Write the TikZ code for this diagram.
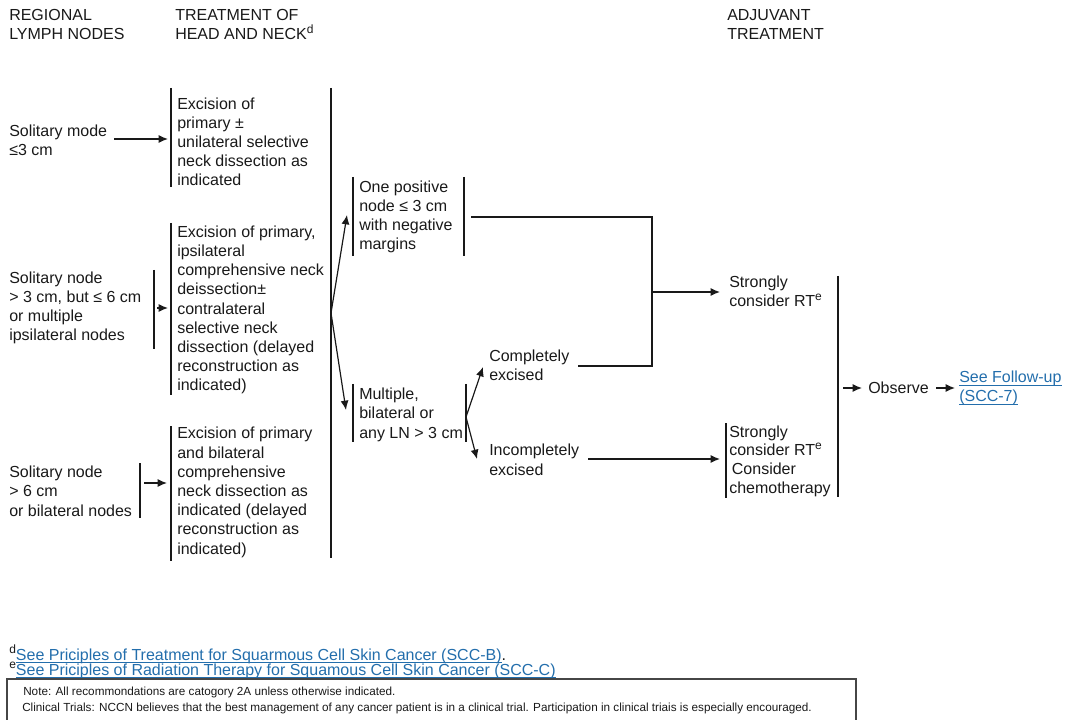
\documentclass[tikz,border=0pt]{standalone}
\usepackage{fontspec}
\setmainfont{Liberation Sans}
\usetikzlibrary{arrows.meta}
\definecolor{ink}{RGB}{25,25,25}
\definecolor{link}{RGB}{35,110,172}
\definecolor{frame}{RGB}{70,70,70}
% underlined link text
\newcommand\lnk[1]{{\color{link}\setbox0\hbox{#1}\rlap{\rule[-2pt]{\wd0}{0.7pt}}\box0}}
% raised footnote mark
\newcommand\fmark[1]{\raisebox{0.42em}{\fontsize{9}{9}\selectfont #1}}
\begin{document}
% multi-line nodes are anchored at the baseline of their last line
\begin{tikzpicture}[x=0.75pt,y=-0.75pt,
  txt/.style={anchor=base west, inner sep=0pt, align=left,
    font=\fontsize{12}{14.4}\selectfont, text=ink},
  small/.style={anchor=base west, inner sep=0pt, align=left,
    font=\fontsize{8.8}{10}\selectfont, text=ink},
  foot/.style={anchor=base west, inner sep=0pt, align=left,
    font=\fontsize{12}{12.8}\selectfont, text=ink},
  bar/.style={line width=0.9pt, draw=ink},
  wire/.style={line width=0.9pt, draw=ink},
  arr/.style={line width=0.9pt, draw=ink, -{Latex[length=7pt,width=6pt]}}]
\useasboundingbox (0,0) rectangle (1068,720);

% column headings
\node[txt] (h1) at (9,40) {REGIONAL\\LYMPH NODES};
\node[txt] (h2) at (175,40) {TREATMENT OF\\HEAD AND NECK\fmark{d}};
\node[txt] (h3) at (727,40) {ADJUVANT\\TREATMENT};

% regional lymph nodes
\node[txt] (l1) at (9,156) {Solitary mode\\≤3 cm};
\node[txt] (l2) at (9,341) {Solitary node\\> 3 cm, but ≤ 6 cm\\or multiple\\ipsilateral nodes};
\node[txt] (l3) at (9,516) {Solitary node\\> 6 cm\\or bilateral nodes};

% treatment of head and neck
\node[txt] (t1) at (177,186) {Excision of\\primary ±\\unilateral selective\\neck dissection as\\indicated};
\node[txt] (t2) at (177,391) {Excision of primary,\\ipsilateral\\comprehensive neck\\deissection±\\contralateral\\selective neck\\dissection (delayed\\reconstruction as\\indicated)};
\node[txt] (t3) at (177,554) {Excision of primary\\and bilateral\\comprehensive\\neck dissection as\\indicated (delayed\\reconstruction as\\indicated)};

% pathology outcomes
\node[txt] (p1) at (359,250) {One positive\\node ≤ 3 cm\\with negative\\margins};
\node[txt] (p2) at (359,438) {Multiple,\\bilateral or\\any LN > 3 cm};
\node[txt] (c1) at (489,381) {Completely\\excised};
\node[txt] (c2) at (489,475) {Incompletely\\excised};

% adjuvant treatment
\node[txt] (a1) at (729,307) {Strongly\\consider RT\fmark{e}};
\node[txt, font=\fontsize{12}{13.9}\selectfont] (a2) at (729,493) {Strongly\\consider RT\fmark{e}\\\hspace{2pt}Consider\\chemotherapy};
\node[txt] (obs) at (868,393) {Observe};
\node[txt] (fu) at (959,402) {\lnk{See Follow-up}\\\lnk{(SCC-7)}};

% bracket bars
\draw[bar] (171,88) -- (171,187);
\draw[bar] (171,223) -- (171,395);
\draw[bar] (171,426) -- (171,561);
\draw[bar] (154,270) -- (154,349);
\draw[bar] (140,463) -- (140,518);
\draw[bar] (331,88) -- (331,558);
\draw[bar] (353,177) -- (353,256);
\draw[bar] (464,177) -- (464,256);
\draw[bar] (353,384) -- (353,442);
\draw[bar] (466,384) -- (466,442);
\draw[bar] (726,423) -- (726,498);
\draw[bar] (838,276) -- (838,497);

% connector end points
\coordinate (l1o) at (114,139);  \coordinate (t1i) at (168,139);
\coordinate (l2o) at (157,308);  \coordinate (t2i) at (168,308);
\coordinate (l3o) at (144,483);  \coordinate (t3i) at (167,483);
\coordinate (fork) at (331,313);
\coordinate (p1i) at (347,215);  \coordinate (p2i) at (346,410);
\coordinate (p1o) at (471,217);  \coordinate (join) at (652,217);
\coordinate (c1o) at (578,366);  \coordinate (joinb) at (652,366);
\coordinate (joinm) at (652,292); \coordinate (a1i) at (720,292);
\coordinate (fork2) at (466,417);
\coordinate (c1i) at (483,367);  \coordinate (c2i) at (477,459);
\coordinate (c2o) at (588,459);  \coordinate (a2i) at (720,459);
\coordinate (rb) at (843,388);   \coordinate (obsi) at (862,388);
\coordinate (obso) at (936,388); \coordinate (fui) at (955,388);

% connectors
\draw[arr] (l1o) -- (t1i);
\draw[arr] (l2o) -- (t2i);
\draw[arr] (l3o) -- (t3i);
\draw[arr] (fork) -- (p1i);
\draw[arr] (fork) -- (p2i);
\draw[wire] (p1o) -- (join) -- (joinb) -- (c1o);
\draw[arr] (joinm) -- (a1i);
\draw[arr] (fork2) -- (c1i);
\draw[arr] (fork2) -- (c2i);
\draw[arr] (c2o) -- (a2i);
\draw[arr] (rb) -- (obsi);
\draw[arr] (obso) -- (fui);

% footnotes
\node[foot] (fd) at (9,660) {\fmark{d}\lnk{See Priciples of Treatment for Squarmous Cell Skin Cancer (SCC-B)}.};
\node[foot] (fe) at (9,675) {\fmark{e}\lnk{See Priciples of Radiation Therapy for Squamous Cell Skin Cancer (SCC-C)}};

% note box
\draw[line width=1.1pt, draw=frame] (7,740) -- (7,679) -- (856,679) -- (856,740);
\node[small] (n1) at (23,695) {Note: All recommondations are catogory 2A unless otherwise indicated.};
\node[small] (n2) at (22,711) {Clinical Trials: NCCN believes that the best management of any cancer patient is in a clinical trial. Participation in clinical triais is especially encouraged.};
\end{tikzpicture}
\end{document}
